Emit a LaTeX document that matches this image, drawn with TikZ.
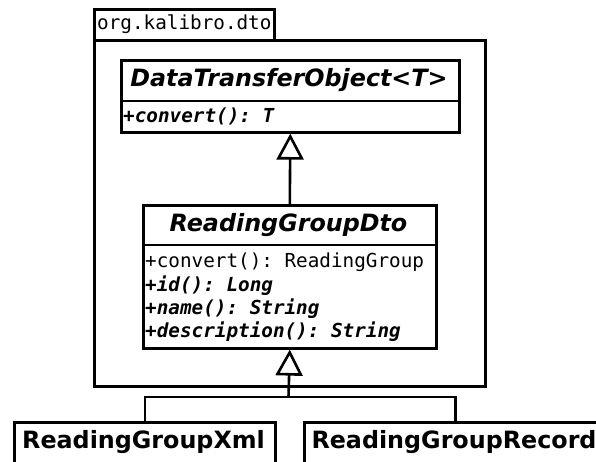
\documentclass[tikz,border=0pt]{standalone}
\usepackage{fontspec}
\setmainfont{DejaVu Sans}
\setmonofont{DejaVu Sans Mono}
\usetikzlibrary{arrows.meta}
\begin{document}
\begin{tikzpicture}[x=1pt,y=-1pt,
  lw/.style={line width=2.6pt},
  umlbox/.style={draw, lw, rectangle, inner sep=0pt, anchor=north west},
  classtitle/.style={font=\fontsize{23.8}{28}\selectfont\bfseries\itshape},
  plaintitle/.style={font=\fontsize{23.8}{28}\selectfont\bfseries},
  member/.style={anchor=west, inner sep=0pt, font=\fontsize{19.3}{23}\selectfont\ttfamily},
  absmember/.style={member, font=\fontsize{19.3}{23}\selectfont\ttfamily\bfseries\itshape},
  inherit/.style={lw, -{Triangle[open, width=27pt, length=26pt, line width=2.6pt]}}
]
\useasboundingbox (0,0) rectangle (596,461);
\clip (0,0) rectangle (596,461);

% package org.kalibro.dto
\node[umlbox, minimum width=180pt, minimum height=31pt] (tab) at (93,8) {};
\node[member] (tablabel) at (97,24) {org.kalibro.dto};
\node[umlbox, minimum width=391pt, minimum height=346pt] (pkg) at (93,39) {};

% DataTransferObject<T>
\node[umlbox, minimum width=338pt, minimum height=72pt] (dto) at (120,59) {};
\draw[lw] (120,101) -- (458,101);
\node[classtitle] (dtotitle) at (289,80) {DataTransferObject<T>};
\node[absmember] (dtoconv) at (123,116) {+convert(): T};

% ReadingGroupDto
\node[umlbox, minimum width=293pt, minimum height=143pt] (rgd) at (142,204) {};
\draw[lw] (142,245) -- (435,245);
\node[classtitle] (rgdtitle) at (288.5,225) {ReadingGroupDto};
\node[member] (rgdconv) at (145,262) {+convert(): ReadingGroup};
\node[absmember] (rgdid) at (145,285.5) {+id(): Long};
\node[absmember] (rgdname) at (145,309) {+name(): String};
\node[absmember] (rgddesc) at (145,332) {+description(): String};

% implementations
\node[umlbox, minimum width=261pt, minimum height=60pt] (xml) at (13,421) {};
\node[plaintitle] (xmltitle) at (143.5,442) {ReadingGroupXml};
\node[umlbox, minimum width=302pt, minimum height=60pt] (rec) at (303,421) {};
\node[plaintitle] (rectitle) at (454,442) {ReadingGroupRecord};

% generalisations
\coordinate (fork) at (288.5,397);
\draw[inherit] (rgd.north) -- (dto.south);
\draw[inherit] (fork) -- (rgd.south);
\draw[lw] (xml.north) |- (fork) -| (rec.north);
\end{tikzpicture}
\end{document}
